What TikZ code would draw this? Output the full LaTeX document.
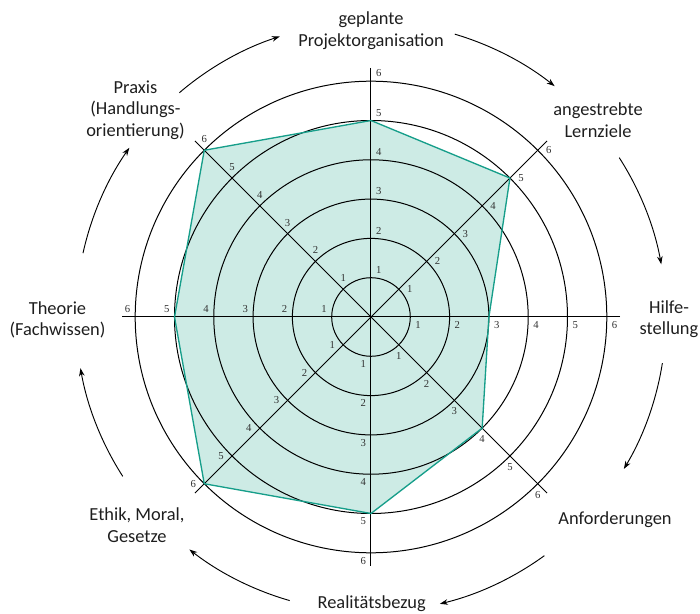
\documentclass[tikz,border=0pt]{standalone}
\usepackage{fontspec}
\setmainfont{Carlito}
\newfontfamily\numfont{Liberation Serif}
\usetikzlibrary{arrows.meta}
\definecolor{polyfill}{RGB}{205,235,229}
\definecolor{polyline}{RGB}{22,158,138}
\definecolor{txt}{RGB}{30,30,30}
\begin{document}
\begin{tikzpicture}[x=0.75pt,y=0.75pt,
  ring/.style={line width=0.75pt, black},
  axisline/.style={line width=0.75pt, black},
  num/.style={font=\numfont\fontsize{8}{8}\selectfont, inner sep=0pt, text=black!80},
  lbl/.style={font=\fontsize{13.8}{16.2}\selectfont, align=center, inner sep=0pt, text=txt},
  flow/.style={line width=0.7pt, black, -{Stealth[length=6pt,width=4.2pt]}}]
\useasboundingbox (-371,-297) rectangle (329,317);
% polygon vertices
\foreach \a/\v [count=\i] in {90/5,45/5,0/3,-45/4,-90/5,-135/6,180/5,135/6}
  \coordinate (p\i) at (\a:\v*39.3);
\fill[polyfill] (p1) -- (p2) -- (p3) -- (p4) -- (p5) -- (p6) -- (p7) -- (p8) -- cycle;
% rings
\foreach \k in {1,...,6}
  \draw[ring] (0,0) circle[radius=39.3*\k];
% axes
\foreach \a in {0,45,90,135}
  \draw[axisline] (\a:249) -- (\a+180:249);
% polygon outline
\draw[polyline, line width=1pt, line join=round] (p1) -- (p2) -- (p3) -- (p4) -- (p5) -- (p6) -- (p7) -- (p8) -- cycle;
% scale numbers
\foreach \a in {90,45,0,-45,-90,-135,180,135}
  \foreach \k in {1,...,6}
    \path (\a:39.3*\k) ++(\a-45:11) node[num] {\k};
% category labels
\node[lbl] (plan)  at (0,286.5)    {geplante\\Projektorganisation};
\node[lbl] (ziele) at (227,197)    {angestrebte\\Lernziele};
\node[lbl] (hilfe) at (298,-2)     {Hilfe-\\stellung};
\node[lbl] (anf)   at (244,-203)   {Anforderungen};
\node[lbl] (real)  at (0.7,-286.5) {Realitätsbezug};
\node[lbl] (ethik) at (-234,-208)  {Ethik, Moral,\\Gesetze};
\node[lbl] (theo)  at (-313.5,-3)  {Theorie\\(Fachwissen)};
\node[lbl] (prax)  at (-235.5,207) {Praxis\\(Handlungs-\\orientierung)};
% cycle arrows
\foreach \s/\e [count=\i] in {130.5/108, 73.5/51.5, 32.7/10.3, -9/-31, -54/-76.5, -106/-128, 212.7/190, 167.5/145}
{
  \coordinate (s\i) at (\s:295);
  \draw[flow] (s\i) arc[start angle=\s, end angle=\e, radius=295];
}
\end{tikzpicture}
\end{document}
